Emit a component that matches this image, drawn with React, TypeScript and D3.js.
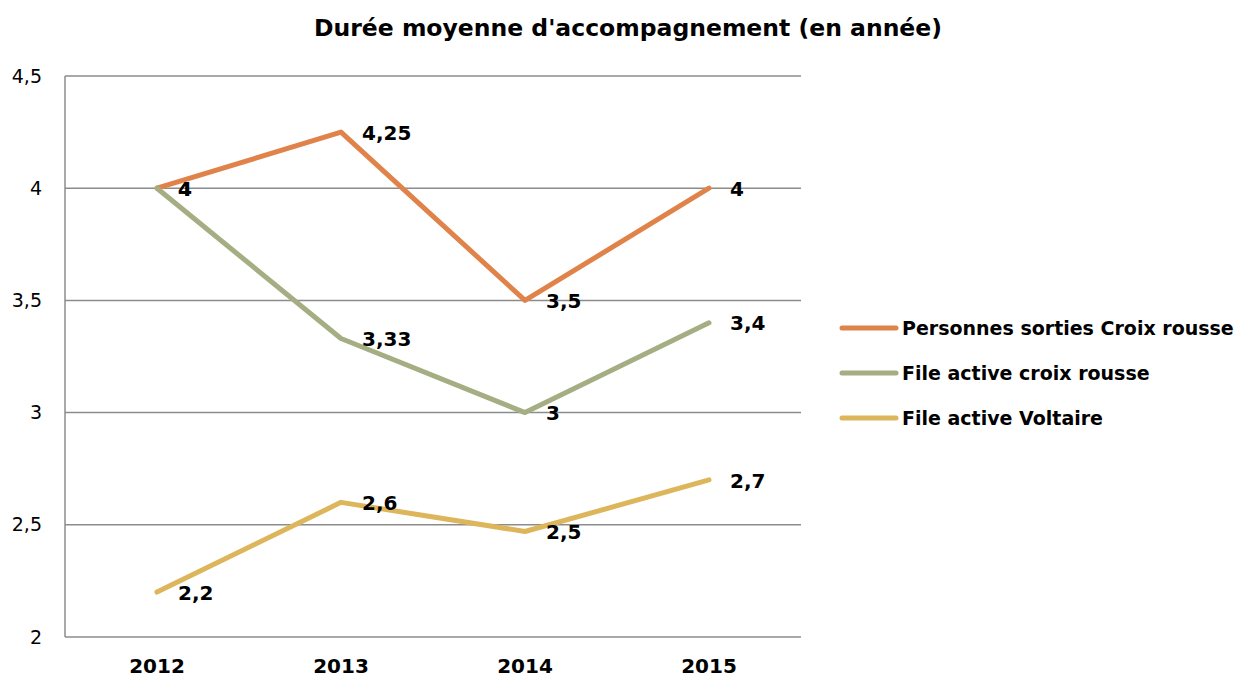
import React, { useEffect, useRef } from 'react';
import * as d3 from 'd3';

// données du graphique
const years = ['2012', '2013', '2014', '2015'];
const sortiesCroixRousse = [4, 4.25, 3.5, 4];
const fileActiveCroixRousse = [4, 3.33, 3, 3.4];
const fileActiveVoltaire = [2.2, 2.6, 2.47, 2.7];
const sortiesLabels = ['4', '4,25', '3,5', '4'];
const croixLabels = ['4', '3,33', '3', '3,4'];
const voltaireLabels = ['2,2', '2,6', '2,5', '2,7'];
const yTicks = [2, 2.5, 3, 3.5, 4, 4.5];
const yTickLabels = ['2', '2,5', '3', '3,5', '4', '4,5'];

const series = [
  { name: 'Personnes sorties Croix rousse', values: sortiesCroixRousse, labels: sortiesLabels, color: '#E0834A' },
  { name: 'File active croix rousse', values: fileActiveCroixRousse, labels: croixLabels, color: '#A5AE83' },
  { name: 'File active Voltaire', values: fileActiveVoltaire, labels: voltaireLabels, color: '#DDB65C' },
];

const W = 1249;
const H = 679;
const FONT = '"DejaVu Sans", sans-serif';

const App = () => {
  const svgRef = useRef<SVGSVGElement>(null);

  useEffect(() => {
    const svg = d3.select(svgRef.current);
    svg.selectAll('*').remove();

    const x = d3.scaleBand().domain(years).range([65, 801]);
    const y = d3.scaleLinear().domain([2, 4.5]).range([637, 76]);
    const cx = (i: number) => (x(years[i]) as number) + x.bandwidth() / 2;

    // titre
    svg.append('text')
      .attr('x', 628).attr('y', 36)
      .attr('text-anchor', 'middle')
      .attr('font-family', FONT).attr('font-weight', 'bold').attr('font-size', 23.5)
      .text("Durée moyenne d'accompagnement (en année)");

    // grille
    svg.append('g').selectAll('line')
      .data(yTicks)
      .join('line')
      .attr('x1', 65).attr('x2', 801)
      .attr('y1', d => y(d)).attr('y2', d => y(d))
      .attr('stroke', '#8c8c8c').attr('stroke-width', 1.5);

    svg.append('line')
      .attr('x1', 65).attr('x2', 65).attr('y1', y(4.5)).attr('y2', y(2))
      .attr('stroke', '#8c8c8c').attr('stroke-width', 1.5);

    // axe y
    svg.append('g').selectAll('text')
      .data(yTicks)
      .join('text')
      .attr('x', 42).attr('y', d => y(d))
      .attr('dy', '0.35em')
      .attr('text-anchor', 'end')
      .attr('font-family', FONT).attr('font-size', 19)
      .text((d, i) => yTickLabels[i]);

    // axe x
    svg.append('g').selectAll('text')
      .data(years)
      .join('text')
      .attr('x', (d, i) => cx(i)).attr('y', 673)
      .attr('text-anchor', 'middle')
      .attr('font-family', FONT).attr('font-weight', 'bold').attr('font-size', 20)
      .text(d => d);

    const line = d3.line<number>()
      .x((d, i) => cx(i))
      .y(d => y(d));

    series.forEach(s => {
      svg.append('path')
        .datum(s.values)
        .attr('d', line)
        .attr('fill', 'none')
        .attr('stroke', s.color)
        .attr('stroke-width', 5)
        .attr('stroke-linejoin', 'round')
        .attr('stroke-linecap', 'round');
    });

    series.forEach(s => {
      svg.append('g').selectAll('text')
        .data(s.values)
        .join('text')
        .attr('x', (d, i) => cx(i) + 21)
        .attr('y', d => y(d))
        .attr('dy', '0.38em')
        .attr('font-family', FONT).attr('font-weight', 'bold').attr('font-size', 20)
        .text((d, i) => s.labels[i]);
    });

    // légende
    const legend = svg.append('g').selectAll('g')
      .data(series)
      .join('g')
      .attr('transform', (d, i) => `translate(842, ${328 + i * 45})`);
    legend.append('line')
      .attr('x1', 0).attr('x2', 54)
      .attr('stroke', d => d.color).attr('stroke-width', 5)
      .attr('stroke-linecap', 'round');
    legend.append('text')
      .attr('x', 60).attr('dy', '0.36em')
      .attr('font-family', FONT).attr('font-weight', 'bold').attr('font-size', 19)
      .text(d => d.name);
  }, []);

  return (
    <svg ref={svgRef} width={W} height={H} style={{ position: 'absolute', left: 0, top: 0, background: '#fff' }} />
  );
};

export default App;
